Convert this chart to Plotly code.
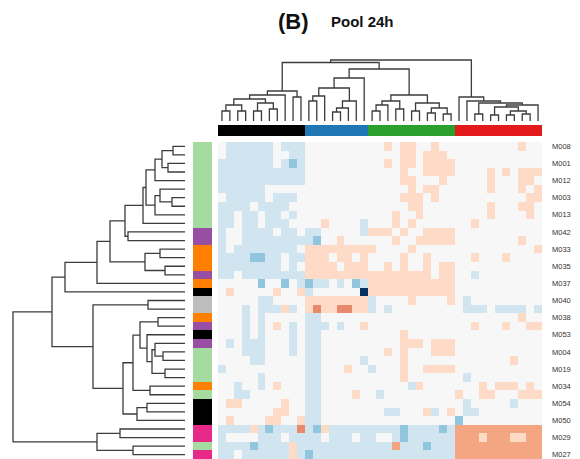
import plotly.graph_objects as go

# page is rendered with an 8px body margin, so the figure is drawn 8px smaller and positions offset
PAGE_W, PAGE_H = 580, 459
OFF = 8
W, H = PAGE_W - OFF, PAGE_H - OFF

# ---------------- data ----------------
title_tag = "(B)"
title_text = "Pool 24h"

row_labels = ["M008", "M001", "M012", "M003", "M013", "M042", "M033", "M035", "M037", "M040",
              "M038", "M053", "M004", "M019", "M034", "M054", "M050", "M029", "M027"]
row_label_rows = [0, 2, 4, 6, 8, 10, 12, 14, 16, 18, 20, 22, 24, 26, 28, 30, 32, 34, 36]

row_groups = ["green", "green", "green", "green", "green", "green", "green", "green", "green", "green",
              "purple", "purple", "orange", "orange", "orange", "purple", "orange", "black",
              "grey", "grey", "orange", "purple", "black", "purple", "green", "green", "green", "green",
              "orange", "green", "black", "black", "black", "pink", "pink", "green", "pink"]
row_group_names = ["green", "purple", "orange", "black", "grey", "pink"]
row_group_colors = ["#a6dba0", "#984ea3", "#ff7f00", "#000000", "#bdbdbd", "#e7298a"]

col_groups = ["black"] * 11 + ["blue"] * 8 + ["green"] * 11 + ["red"] * 11
col_group_names = ["black", "blue", "green", "red"]
col_group_colors = ["#000000", "#1f78b4", "#2ca02c", "#e31a1c"]

# heatmap cells: N navy, B mid blue, b light blue, . neutral, o light orange, O mid orange, R dark orange
heat_rows = [
    ".bbbbbb.bbb ........ ..o.oo..o.. ........o..",
    ".bbbbbb..bb ........ ....oo.ooo. ...........",
    "bbbbbbb.bBb ........ ..o.oo.oooo ...........",
    "bbbbbbbbbbb ........ ....o..oooo ....o.o.ooo",
    "bbbbbbbbbbb ........ ....oo...o. ....o...oo.",
    "bbbbbb..... ........ .....o.oo.. ....o...o.o",
    ".bbbbb.bbb. ........ ....ooo.o.. .........oo",
    "bbbb.bbbb.. ........ .....oo.... ....o...oo.",
    "bb.bb.bb.b. ........ ...o..o.... ....o....o.",
    "bb.bb.bbb.. ..o....b ...o.o..... ..o........",
    "b..bbbb.bb. bb.....b ooo.o..oooo ...........",
    "b..bbbbbbbb bB..o... ...o..ooooo ........o..",
    "b.bbbbbbbb. oooooooo o....o..... ..........o",
    "bbbbBBbb.bb ooo.oo.o ....o..o... ..o...o....",
    "bbbbbbbb.b. oooo.ooo ..o.o..o.oo ...........",
    "bb.bbbbbbbb oooooooo oooooooo.oo ..b........",
    ".....B..B.b Bbb.b.Bb ooooooooooo ...........",
    ".o.....o..o b......N ooooooooooo ...........",
    ".....bb.... oooooooo b....o....o .b.........",
    "...b.bbbob. oRooRRoo b.b........ .bbb.bbbb.b",
    "...b.b..... bb...... ........... ........o..",
    "...b.b.o.b. bbb.b..o ........... ..o...o..oo",
    "...b.b...b. bb...... ....o...... ...........",
    ".b.bbb...b. bb...... ....ooo.ooo ...........",
    "...bbb...b. bb...... ..o.o...ooo ...........",
    "....bb..... bb.....b ....o...... .......o...",
    "b.......... bb...o.. b...o..oooo ...........",
    ".....b..... bb...... ....o...... .b.........",
    "..b..b.o... bb...... .....bo.... ...o.ooo.o.",
    "..bb....... bb....o. .b......... o..oo...ooo",
    ".oo.....o.. bb...... ........... .b.....b...",
    ".......oo.. bb...... ..bb...ob.o .bb........",
    ".o....oo..o bb...... ........... B..........",
    "bbbbobBbbbR bBobbbbb bbbbBbbbbBb OOOOOOOOOOO",
    "b....bbb.bb bb.bbb.b b..bBbbbbbb OOOoOOOooOO",
    "bbbbBbbbbob bbbbbbbb bbbObbbBbbb OOOOOOOOOOO",
    "bb.bbbbbbob Bbbbbbbb bbbbbbbbbbb OOOOOOOOOOO",
]
cell_codes = ["N", "B", "b", ".", "o", "O", "R"]
cell_values = [-3, -2, -1, 0, 1, 2, 3]
cell_colors = ["#053061", "#92c5de", "#d1e5f0", "#f7f7f7", "#fddbc7", "#f4a582", "#e8896b"]

# dendrogram merges (left id, right id, height); leaves are 0..n-1, new nodes n, n+1, ...
col_merges = [
    (0, 1, 10), (2, 3, 10), (41, 42, 16), (4, 5, 10), (6, 7, 12), (44, 45, 18), (43, 46, 22),
    (47, 8, 26), (9, 10, 24), (48, 49, 30),
    (11, 12, 20), (51, 13, 25), (14, 15, 9), (53, 16, 13), (54, 17, 20), (52, 55, 33), (56, 18, 43),
    (19, 20, 10), (58, 21, 16), (22, 23, 12), (59, 60, 20), (24, 25, 10), (26, 27, 8), (28, 29, 7),
    (63, 64, 13), (62, 65, 18), (61, 66, 26),
    (32, 33, 7), (34, 35, 6), (36, 37, 6), (38, 39, 7), (70, 71, 10), (69, 72, 14), (73, 40, 16),
    (68, 74, 18), (31, 75, 20), (30, 76, 24),
    (57, 67, 52), (50, 78, 58.5), (79, 77, 61),
]
row_merges = [
    (0, 1, 12), (2, 3, 17), (37, 38, 23), (39, 4, 30), (6, 7, 13), (5, 41, 25), (42, 8, 30),
    (40, 43, 39), (44, 9, 42), (10, 11, 57), (45, 46, 60), (12, 13, 25), (14, 15, 20), (48, 49, 40),
    (47, 50, 75), (51, 16, 88), (52, 17, 120),
    (18, 19, 37), (20, 21, 27), (24, 25, 22), (23, 56, 30), (26, 27, 20), (57, 58, 33), (22, 59, 38),
    (55, 60, 45), (28, 29, 35), (61, 62, 52), (30, 31, 38), (64, 32, 48), (63, 65, 62), (54, 66, 92),
    (53, 67, 133), (33, 34, 65), (35, 36, 52), (69, 70, 88), (68, 71, 172),
]

# ---------------- helpers ----------------
def discrete_scale(colors):
    n = len(colors)
    cs = []
    for i, c in enumerate(colors):
        cs.append([i / n, c])
        cs.append([(i + 1) / n, c])
    return cs


def dendro_lines(n, merges):
    pos = {i: float(i) for i in range(n)}
    hgt = {i: 0.0 for i in range(n)}
    P, Hh = [], []
    for k, (a, b, h) in enumerate(merges):
        P += [pos[a], pos[a], pos[b], pos[b], None]
        Hh += [hgt[a], h, h, hgt[b], None]
        pos[n + k] = (pos[a] + pos[b]) / 2
        hgt[n + k] = h
    return P, Hh


n_rows = len(heat_rows)
val_of = dict(zip(cell_codes, cell_values))
z = [[val_of[ch] for ch in r.replace(" ", "")] for r in heat_rows]
n_cols = len(z[0])

# page pixel -> paper fraction
px = lambda v: (v - OFF) / W
py = lambda v: 1 - (v - OFF) / H

fig = go.Figure()

fig.add_trace(go.Heatmap(
    z=z, x=list(range(n_cols)), y=list(range(n_rows)),
    colorscale=discrete_scale(cell_colors), zmin=-3.5, zmax=3.5,
    showscale=False, hoverinfo="skip", xaxis="x", yaxis="y"))

fig.add_trace(go.Heatmap(
    z=[[col_group_names.index(g) for g in col_groups]], x=list(range(n_cols)), y=[0],
    colorscale=discrete_scale(col_group_colors), zmin=-0.5, zmax=len(col_group_colors) - 0.5,
    showscale=False, hoverinfo="skip", xaxis="x", yaxis="y2"))

fig.add_trace(go.Heatmap(
    z=[[row_group_names.index(g)] for g in row_groups], x=[0], y=list(range(n_rows)),
    colorscale=discrete_scale(row_group_colors), zmin=-0.5, zmax=len(row_group_colors) - 0.5,
    showscale=False, hoverinfo="skip", xaxis="x2", yaxis="y"))

cx, ch = dendro_lines(n_cols, col_merges)
fig.add_trace(go.Scatter(x=cx, y=ch, mode="lines", line=dict(color="#3c3c3c", width=1.3),
                         hoverinfo="skip", xaxis="x", yaxis="y3", showlegend=False))

ry, rh = dendro_lines(n_rows, row_merges)
fig.add_trace(go.Scatter(x=rh, y=ry, mode="lines", line=dict(color="#3c3c3c", width=1.3),
                         hoverinfo="skip", xaxis="x3", yaxis="y", showlegend=False))

hidden = dict(showgrid=False, zeroline=False, showline=False, showticklabels=False, ticks="")

fig.update_layout(
    width=W, height=H, margin=dict(l=0, r=0, t=0, b=0),
    paper_bgcolor="white", plot_bgcolor="white", showlegend=False,
    font=dict(family="Liberation Sans, Arial, sans-serif"),
    xaxis=dict(domain=[px(218), px(542)], range=[-0.5, n_cols - 0.5], anchor="y", **hidden),
    yaxis=dict(domain=[0, py(142)], range=[n_rows - 0.5, -0.5], anchor="x", side="right",
               showgrid=False, zeroline=False, showline=False, ticks="",
               tickvals=row_label_rows, ticktext=row_labels, ticklabelstandoff=9,
               ticklabeloverflow="allow",
               tickfont=dict(size=7.5, color="#333333")),
    yaxis2=dict(domain=[py(136), py(125)], range=[-0.5, 0.5], anchor="x", **hidden),
    yaxis3=dict(domain=[py(121), py(58)], range=[0, 63], anchor="x", **hidden),
    xaxis2=dict(domain=[px(193), px(212)], range=[-0.5, 0.5], anchor="y", **hidden),
    xaxis3=dict(domain=[px(10), px(185)], range=[175, 0], anchor="y", **hidden),
    annotations=[
        dict(text="<b>" + title_tag + "</b>", x=px(276), y=py(22), xref="paper", yref="paper",
             xanchor="left", yanchor="middle", showarrow=False,
             font=dict(size=22, color="#111111")),
        dict(text="<b>" + title_text + "</b>", x=px(329), y=py(22), xref="paper", yref="paper",
             xanchor="left", yanchor="middle", showarrow=False,
             font=dict(size=15, color="#111111")),
    ],
)

fig.write_html("out.html")
